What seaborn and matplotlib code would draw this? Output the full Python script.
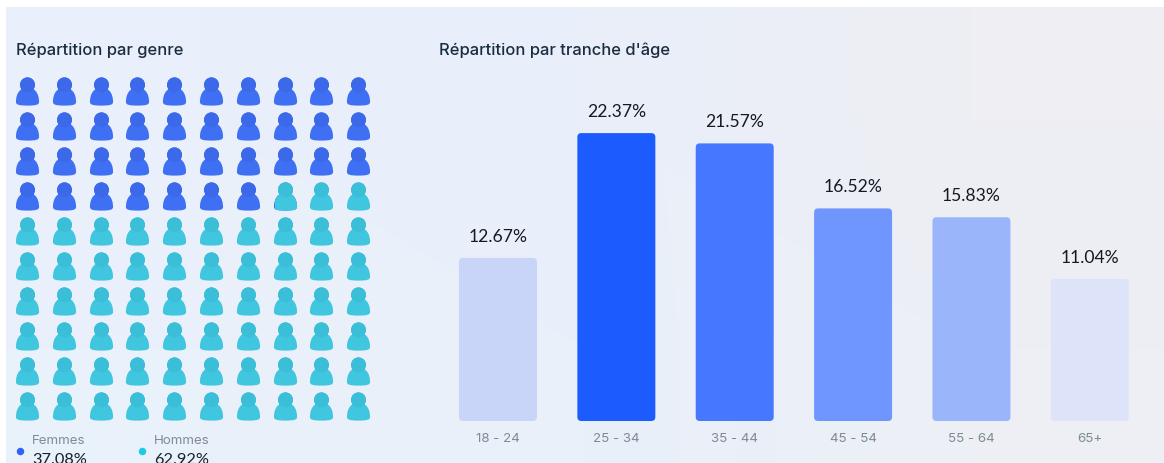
import numpy as np
import pandas as pd
import matplotlib
matplotlib.use('Agg')
import matplotlib.pyplot as plt
from matplotlib.path import Path
from matplotlib.patches import FancyBboxPatch, Rectangle
import seaborn as sns

# data
age_groups = ['18 - 24', '25 - 34', '35 - 44', '45 - 54', '55 - 64', '65+']
age_values = [12.67, 22.37, 21.57, 16.52, 15.83, 11.04]
age_colors = ['#c9d5f8', '#1c5cff', '#4678ff', '#6f96fd', '#9bb5fb', '#dde3f8']
gender_names = ['Femmes', 'Hommes']
gender_values = [37.08, 62.92]
gender_colors = ['#3f70f4', '#40c6de']
head_colors = ['#3c69ea', '#3bbed7']
legend_dots = ['#2f63f5', '#1ccbe6']

W, H = 1164, 463
sns.set_theme(style='white')
plt.rcParams['font.family'] = ['Inter', 'DejaVu Sans']


def px_axes(fig, left, top, right, bottom):
    # axes placed with pixel coordinates of the image
    return fig.add_axes([left / W, 1 - bottom / H, (right - left) / W, (bottom - top) / H])


def person_marker():
    head = Path.circle((0, 0.47), 0.53)
    # same winding as the circle, otherwise the overlap turns into a hole
    verts = [(0.82, -0.75), (0.82, -0.1), (0.5, 0.28), (0, 0.28),
             (-0.5, 0.28), (-0.82, -0.1), (-0.82, -0.75),
             (-0.82, -0.94), (-0.6, -1.0), (0, -1.0),
             (0.6, -1.0), (0.82, -0.94), (0.82, -0.75), (0.82, -0.75)]
    codes = [Path.MOVETO] + [Path.CURVE4] * 12 + [Path.CLOSEPOLY]
    return Path.make_compound_path(head, Path(verts, codes))


def head_marker():
    # the lone point at the bottom keeps the same scale as the whole person
    head = Path.circle((0, 0.47), 0.53)
    anchor = Path([(0, -1.0), (0, -1.0)], [Path.MOVETO, Path.LINETO])
    return Path.make_compound_path(head, anchor)


fig = plt.figure(figsize=(W / 100, H / 100), dpi=100, facecolor='white')

# panel background
bg = px_axes(fig, 6, 7, W, H)
bg.imshow(np.array([[[233, 240, 251], [233, 239, 250], [238, 238, 243]],
                    [[233, 241, 251], [233, 240, 250], [237, 239, 245]]], dtype=np.uint8),
          aspect='auto', interpolation='bilinear', extent=(0, 1, 0, 1))
bg.axis('off')

# waffle of people
ax = px_axes(fig, 8.6, 73.5, 376.6, 423.5)
ax.patch.set_alpha(0)
grid = pd.DataFrame({'n': np.arange(100)})
grid['col'] = grid.n % 10
grid['row'] = grid.n // 10
whole = int(gender_values[0])
frac = gender_values[0] - whole
msize = 20.3 ** 2

sns.scatterplot(data=grid[grid.n <= whole], x='col', y='row', marker=person_marker(), s=msize,
                color=gender_colors[0], linewidth=0, ax=ax, legend=False, clip_on=False)
sns.scatterplot(data=grid[grid.n > whole], x='col', y='row', marker=person_marker(), s=msize,
                color=gender_colors[1], linewidth=0, ax=ax, legend=False, clip_on=False)
# the split person: teal covers all but the left sliver
sns.scatterplot(data=grid[grid.n == whole], x='col', y='row', marker=person_marker(), s=msize,
                color=gender_colors[1], linewidth=0, ax=ax, legend=False)
split = grid[grid.n == whole].iloc[0]
icon_w = 23 / 36.8
ax.collections[-1].set_clip_path(Rectangle((split.col - icon_w / 2 + icon_w * frac, split.row - 0.5),
                                           icon_w, 1, transform=ax.transData))
# slightly darker heads
sns.scatterplot(data=grid[grid.n < whole], x='col', y='row', marker=head_marker(), s=msize,
                color=head_colors[0], linewidth=0, ax=ax, legend=False, clip_on=False)
sns.scatterplot(data=grid[grid.n >= whole], x='col', y='row', marker=head_marker(), s=msize,
                color=head_colors[1], linewidth=0, ax=ax, legend=False, clip_on=False)
ax.set_xlim(-0.5, 9.5)
ax.set_ylim(9.5, -0.5)
ax.axis('off')

# age bars
ax2 = px_axes(fig, 438.8, 35, 1149, 421)
ax2.patch.set_alpha(0)
ages = pd.DataFrame({'age': age_groups, 'value': age_values})
sns.barplot(data=ages, x='age', y='value', hue='age', palette=age_colors, legend=False,
            width=78 / 118.4, saturation=1, ax=ax2)
ax2.set_xlim(-0.5, 5.5)
ax2.set_ylim(0, 386 / 12.87)
for bar in list(ax2.patches):
    box = FancyBboxPatch((bar.get_x(), bar.get_y()), bar.get_width(), bar.get_height(),
                         boxstyle='round,pad=0,rounding_size=0.034', mutation_aspect=118.4 / 12.87,
                         facecolor=bar.get_facecolor(), edgecolor='none')
    ax2.add_patch(box)
    bar.set_visible(False)
    ax2.annotate(f'{bar.get_height():.2f}%', (bar.get_x() + bar.get_width() / 2, bar.get_height()),
                 xytext=(0, 9.6), textcoords='offset points', ha='center', va='bottom',
                 fontsize=12.6, color='#16191f', family='Lato')
ax2.set_xlabel('')
ax2.set_ylabel('')
ax2.set_yticks([])
ax2.tick_params(axis='x', length=0, pad=8.5, labelsize=9.6, labelcolor='#7d8b94')
sns.despine(ax=ax2, left=True, bottom=True)

# titles
fig.text(16 / W, 1 - 50 / H, 'Répartition par genre', fontsize=11.9, fontweight='medium',
         color='#1a2c40', va='center')
fig.text(439 / W, 1 - 50 / H, "Répartition par tranche d'âge", fontsize=11.9, fontweight='medium',
         color='#1a2c40', va='center')

# legend, cut by the lower edge like the original
for name, value, dot, x in zip(gender_names, gender_values, legend_dots, [19.5, 141.5]):
    fig.add_artist(plt.Line2D([x / W], [1 - 451 / H], marker='o', ms=5.4, color=dot, mew=0))
    fig.text((x + 12.5) / W, 1 - 441 / H, name, fontsize=9.6, color='#808b99', va='center')
    fig.text((x + 12.5) / W, 1 - 460.5 / H, f'{value:.2f}%', fontsize=11.8, color='#16202c',
             va='center', family='Lato')

fig.savefig('out.png', dpi=100)
